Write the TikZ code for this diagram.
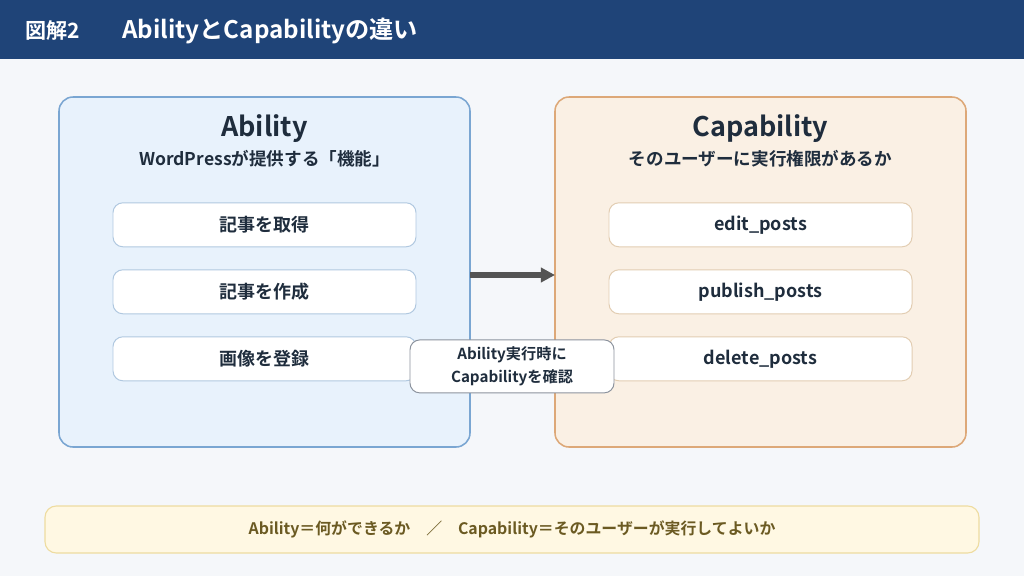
\documentclass[tikz,border=0pt]{standalone}
\usepackage{fontspec}
\setmainfont{Noto Sans CJK JP}[BoldFont={Noto Sans CJK JP Bold}]
\usepackage{xcolor}
\usepackage{tikz}
\usetikzlibrary{arrows.meta}
\definecolor{headnavy}{HTML}{1F4478}
\definecolor{pagebg}{HTML}{F5F7FA}
\definecolor{inkdark}{HTML}{1F2D3D}
\definecolor{abfill}{HTML}{E8F2FC}
\definecolor{abline}{HTML}{7AA6D2}
\definecolor{abitem}{HTML}{B0C8E0}
\definecolor{capfill}{HTML}{FAF0E4}
\definecolor{capline}{HTML}{DDA878}
\definecolor{capitem}{HTML}{E2CDB2}
\definecolor{notegray}{HTML}{8C939E}
\definecolor{notefill}{HTML}{FFF8E3}
\definecolor{noteline}{HTML}{EEDCA0}
\definecolor{noteink}{HTML}{6B5A22}

\tikzset{
	panel/.style={draw,line width=1.1pt,rounded corners=10pt,minimum width=10.275cm,minimum height=8.75cm,inner sep=0pt,outer sep=0pt},
	item/.style={draw,line width=0.7pt,fill=white,rounded corners=7pt,minimum width=7.575cm,minimum height=1.1cm,inner sep=0pt,outer sep=0pt,text=inkdark,font=\bfseries\fontsize{12.8}{15}\selectfont},
	ptitle/.style={text=inkdark,font=\bfseries\fontsize{19.2}{23}\selectfont,inner sep=0pt},
	psub/.style={text=inkdark,font=\bfseries\fontsize{12.5}{15}\selectfont,inner sep=0pt}
}

\begin{document}
\begin{tikzpicture}[y=-1cm]
				\useasboundingbox (0,0) rectangle (25.6,14.4);
				\fill[pagebg] (0,0) rectangle (25.6,14.4);
				\fill[headnavy] (0,0) rectangle (25.6,1.475);%header
				\node[anchor=west,text=white,font=\bfseries\fontsize{15}{18}\selectfont,inner sep=0pt] (fig) at (0.62,0.77) {図解2};
				\node[anchor=west,text=white,font=\bfseries\fontsize{17.2}{20}\selectfont,inner sep=0pt] (head) at (3.05,0.77) {AbilityとCapabilityの違い};
				
				\node[panel,fill=abfill,draw=abline] (ability) at (6.6125,6.8) {};
				\node[panel,fill=capfill,draw=capline] (capability) at (19.0125,6.8) {};
				
				\node[ptitle] (abtitle) at (6.6125,3.22) {Ability};
				\node[psub] (absub) at (6.6125,3.97) {WordPressが提供する「機能」};
				\node[ptitle] (captitle) at (19.0125,3.22) {Capability};
				\node[psub] (capsub) at (19.0125,3.97) {そのユーザーに実行権限があるか};
				
				\node[item,draw=abitem] (ab1) at (6.6125,5.62) {記事を取得};
				\node[item,draw=abitem] (ab2) at (6.6125,7.295) {記事を作成};
				\node[item,draw=abitem] (ab3) at (6.6125,8.97) {画像を登録};
				\node[item,draw=capitem] (cap1) at (19.0125,5.62) {edit\_posts};
				\node[item,draw=capitem] (cap2) at (19.0125,7.295) {publish\_posts};
				\node[item,draw=capitem] (cap3) at (19.0125,8.97) {delete\_posts};
				
				\draw[line width=3.6pt,color=black!67,-{Triangle[length=10pt,width=10pt]}] (ability.east |- 0,6.875) -- (capability.west |- 0,6.875);
				
				\node[draw=notegray,line width=0.7pt,fill=white,rounded corners=7pt,minimum width=5.1cm,minimum height=1.325cm,inner sep=0pt,align=center,text=inkdark,font=\bfseries\fontsize{10.8}{16}\selectfont] (check) at (12.8,9.16) {Ability実行時に\\Capabilityを確認};
				
				\node[draw=noteline,line width=0.8pt,fill=notefill,rounded corners=8pt,minimum width=23.35cm,minimum height=1.175cm,inner sep=0pt,text=noteink,font=\bfseries\fontsize{11.3}{13}\selectfont] (summary) at (12.8,13.2375) {Ability＝何ができるか　／　Capability＝そのユーザーが実行してよいか};
			\end{tikzpicture}
\end{document}
